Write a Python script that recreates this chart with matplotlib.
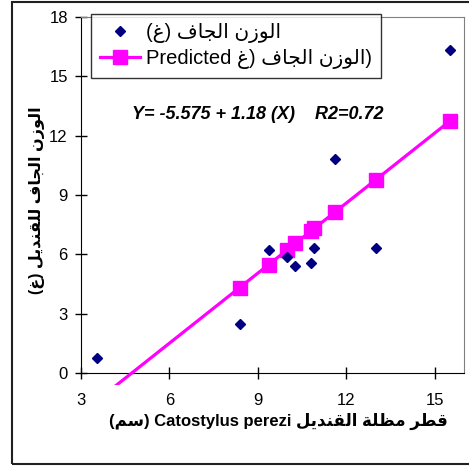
import matplotlib
matplotlib.use('Agg')
import matplotlib.pyplot as plt
from matplotlib.patches import Rectangle
import numpy as np

# قراءة البيانات من الشكل
diameter = [3.53, 8.38, 9.37, 10.0, 10.28, 10.81, 10.92, 11.63, 13.0, 15.52]
dry_weight = [0.76, 2.49, 6.23, 5.85, 5.39, 5.56, 6.30, 10.82, 6.30, 16.35]
intercept = -5.575
slope = 1.18
r2 = 0.72
x_ticks = [3, 6, 9, 12, 15]
y_ticks = [0, 3, 6, 9, 12, 15, 18]

# اشكال الحروف العربية: معزول، نهائي، ابتدائي، وسطي
FORMS = {
    'ا': ('\uFE8D', '\uFE8E', None, None),
    'ل': ('\uFEDD', '\uFEDE', '\uFEDF', '\uFEE0'),
    'و': ('\uFEED', '\uFEEE', None, None),
    'ز': ('\uFEAF', '\uFEB0', None, None),
    'ن': ('\uFEE5', '\uFEE6', '\uFEE7', '\uFEE8'),
    'ج': ('\uFE9D', '\uFE9E', '\uFE9F', '\uFEA0'),
    'ف': ('\uFED1', '\uFED2', '\uFED3', '\uFED4'),
    'غ': ('\uFECD', '\uFECE', '\uFECF', '\uFED0'),
    'ق': ('\uFED5', '\uFED6', '\uFED7', '\uFED8'),
    'د': ('\uFEA9', '\uFEAA', None, None),
    'ي': ('\uFEF1', '\uFEF2', '\uFEF3', '\uFEF4'),
    'ط': ('\uFEC1', '\uFEC2', '\uFEC3', '\uFEC4'),
    'م': ('\uFEE1', '\uFEE2', '\uFEE3', '\uFEE4'),
    'ظ': ('\uFEC5', '\uFEC6', '\uFEC7', '\uFEC8'),
    'ة': ('\uFE93', '\uFE94', None, None),
    'س': ('\uFEB1', '\uFEB2', '\uFEB3', '\uFEB4'),
    'ر': ('\uFEAD', '\uFEAE', None, None),
}


def ar(text):
    # تشكيل بسيط ثم عكس الترتيب للعرض
    out = []
    for i, c in enumerate(text):
        if c not in FORMS:
            out.append(c)
            continue
        prev = text[i - 1] if i > 0 else ''
        nxt = text[i + 1] if i + 1 < len(text) else ''
        jp = prev in FORMS and FORMS[prev][2] is not None
        jn = nxt in FORMS and FORMS[c][2] is not None
        iso, fin, ini, med = FORMS[c]
        if jp and jn:
            out.append(med)
        elif jp:
            out.append(fin)
        elif jn:
            out.append(ini)
        else:
            out.append(iso)
    return ''.join(out[::-1])


dry = 'الوزن الجاف'
label_obs = '(' + ar('غ') + ') ' + ar(dry)
label_pred = 'Predicted ' + ar('غ') + ') ' + ar(dry) + ')'
y_label = '(' + ar('غ') + ') ' + ar('الوزن الجاف للقنديل')
x_label = '(' + ar('سم') + ') Catostylus perezi ' + ar('قطر مظلة القنديل')

plt.rcParams['font.family'] = ['Liberation Sans', 'DejaVu Sans']

W, H = 469, 468
fig = plt.figure(figsize=(W / 100, H / 100), dpi=100)
ax = fig.add_axes([81 / W, 1 - 373 / H, (464 - 81) / W, (373 - 17) / H])

x = np.array(diameter)
pred = intercept + slope * x

ax.plot(x, dry_weight, linestyle='none', marker='D', ms=5.2, color='#000080',
        label=label_obs, zorder=4)
line, = ax.plot(x, pred, color='#FF00FF', lw=2.3, marker='s', ms=9.5,
                label=label_pred, zorder=3)
clip = Rectangle((0, -0.035), 1, 1.035, transform=ax.transAxes)
line.set_clip_path(clip)

ax.set_xlim(3, 16)
ax.set_ylim(0, 18)
ax.set_xticks(x_ticks)
ax.set_yticks(y_ticks)
ax.tick_params(direction='inout', length=9, width=1, labelsize=12, color='black')
ax.tick_params(axis='x', pad=10)
ax.tick_params(axis='y', pad=5)
for s in ['top', 'right']:
    ax.spines[s].set_color('#808080')
for s in ['left', 'bottom']:
    ax.spines[s].set_color('black')

ax.text(0.133, 0.725, 'Y= -5.575 + 1.18 (X)    R2=0.72', transform=ax.transAxes,
        fontsize=13, fontweight='bold', fontstyle='italic', va='center')

leg = ax.legend(loc='upper left', bbox_to_anchor=(91 / W, 1 - 14 / H),
                bbox_transform=fig.transFigure, fontsize=14.5, frameon=True,
                fancybox=False, edgecolor='black', borderpad=0.45,
                handlelength=2.0, handletextpad=0.3, labelspacing=0.3,
                borderaxespad=0, numpoints=1)
leg.get_frame().set_linewidth(1.0)

fig.text(278 / W, 1 - 421 / H, x_label, ha='center', va='center',
         fontsize=12, fontweight='bold')
fig.text(37 / W, 1 - 200 / H, y_label, ha='center', va='center',
         rotation=90, fontsize=11.5, fontweight='bold')

frame = Rectangle((12 / W, 1 - 464 / H), 1.0, (464 - 2) / H,
                  transform=fig.transFigure, fill=False, edgecolor='#202020',
                  lw=1.5, clip_on=False)
fig.patches.append(frame)

fig.savefig('out.png', dpi=100)
